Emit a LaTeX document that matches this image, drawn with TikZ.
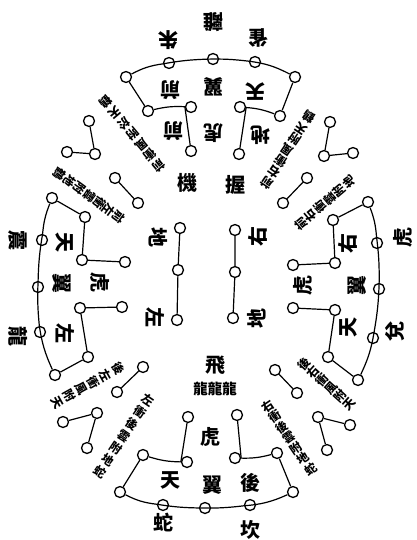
\documentclass[tikz,border=0pt]{standalone}
\usepackage{fontspec}
\usetikzlibrary{calc}
\newfontfamily\cjk{Noto Sans CJK TC}
\begin{document}
\begin{tikzpicture}[x=1pt,y=-1pt,
  ring/.style={circle,draw,line width=1.3pt,minimum size=11pt,inner sep=0pt,fill=white},
  lnk/.style={line width=1.2pt},
  big/.style={font=\cjk\bfseries\fontsize{20}{20}\selectfont,inner sep=0pt},
  mid/.style={font=\cjk\bfseries\fontsize{14.5}{15}\selectfont,inner sep=0pt},
  sm/.style={font=\cjk\bfseries\fontsize{12}{12}\selectfont,inner sep=0pt}]
\useasboundingbox (0,0) rectangle (417,540);
% ---------- top formation
\node[ring] (T1) at (126,77) {};
\node[ring] (T2) at (169,63) {};
\node[ring] (T3) at (213,59) {};
\node[ring] (T4) at (255,62) {};
\node[ring] (T5) at (295,77) {};
\node[ring] (Ta) at (148,111) {};
\node[ring] (Tb) at (191,107) {};
\node[ring] (Tc) at (191,151) {};
\node[ring] (Td) at (240,107) {};
\node[ring] (Te) at (280,116) {};
\node[ring] (Tf) at (239,154) {};
\draw[lnk] (T1) to[bend left=10] (T2) to[bend left=4] (T3) to[bend left=4] (T4) to[bend left=10] (T5);
\draw[lnk] (T1) -- (Ta) to[bend left=8] (Tb) -- (Tc);
\draw[lnk] (T5) -- (Te) to[bend right=8] (Td) -- (Tf);
% ---------- left formation
\node[ring] (L1) at (52,198) {};
\node[ring] (L2) at (42,240) {};
\node[ring] (L3) at (38,287) {};
\node[ring] (L4) at (40,332) {};
\node[ring] (L5) at (55,375) {};
\node[ring] (La) at (85,217) {};
\node[ring] (Lb) at (82,260) {};
\node[ring] (Lc) at (125,262) {};
\node[ring] (Ld) at (88,357) {};
\node[ring] (Le) at (80,308) {};
\node[ring] (Lf) at (122,307) {};
\draw[lnk] (L1) to[bend right=8] (L2) to[bend right=4] (L3) to[bend right=4] (L4) to[bend right=8] (L5);
\draw[lnk] (L1) -- (La) -- (Lb) -- (Lc);
\draw[lnk] (L5) -- (Ld) -- (Le) -- (Lf);
% ---------- right formation
\node[ring] (R1) at (368,202) {};
\node[ring] (R2) at (377,243) {};
\node[ring] (R3) at (379,289) {};
\node[ring] (R4) at (373,338) {};
\node[ring] (R5) at (358,380) {};
\node[ring] (Ra) at (333,220) {};
\node[ring] (Rb) at (335,263) {};
\node[ring] (Rc) at (293,265) {};
\node[ring] (Rd) at (328,357) {};
\node[ring] (Re) at (335,310) {};
\node[ring] (Rf) at (293,308) {};
\draw[lnk] (R1) to[bend left=8] (R2) to[bend left=4] (R3) to[bend left=4] (R4) to[bend left=8] (R5);
\draw[lnk] (R1) -- (Ra) -- (Rb) -- (Rc);
\draw[lnk] (R5) -- (Rd) -- (Re) -- (Rf);
% ---------- bottom formation
\node[ring] (B1) at (120,492) {};
\node[ring] (B2) at (163,505) {};
\node[ring] (B3) at (205,508) {};
\node[ring] (B4) at (250,505) {};
\node[ring] (B5) at (293,492) {};
\node[ring] (Ba) at (143,455) {};
\node[ring] (Bb) at (187,462) {};
\node[ring] (Bc) at (188,417) {};
\node[ring] (Bd) at (277,453) {};
\node[ring] (Be) at (235,458) {};
\node[ring] (Bf) at (237,415) {};
\draw[lnk] (B1) to[bend right=10] (B2) to[bend right=4] (B3) to[bend right=4] (B4) to[bend right=10] (B5);
\draw[lnk] (B1) -- (Ba) to[bend right=8] (Bb) -- (Bc);
\draw[lnk] (B5) -- (Bd) to[bend left=8] (Be) -- (Bf);
% ---------- centre columns
\node[ring] (C1) at (180,228) {};
\node[ring] (C2) at (178,270) {};
\node[ring] (C3) at (177,320) {};
\node[ring] (C4) at (235,230) {};
\node[ring] (C5) at (235,272) {};
\node[ring] (C6) at (233,318) {};
\draw[lnk] (C1) -- (C2) -- (C3);
\draw[lnk] (C4) -- (C5) -- (C6);
% ---------- corner groups
\node[ring] (P1) at (89,121) {};
\node[ring] (P2) at (95,154) {};
\node[ring] (P3) at (67,152) {};
\draw[lnk] (P1) -- (P2) -- (P3);
\node[ring] (Q1) at (115,178) {};
\node[ring] (Q2) at (138,203) {};
\draw[lnk] (Q1) -- (Q2);
\node[ring] (P4) at (330,122) {};
\node[ring] (P5) at (324,156) {};
\node[ring] (P6) at (353,153) {};
\draw[lnk] (P4) -- (P5) -- (P6);
\node[ring] (Q3) at (307,178) {};
\node[ring] (Q4) at (283,203) {};
\draw[lnk] (Q3) -- (Q4);
\node[ring] (P7) at (97,413) {};
\node[ring] (P8) at (63,422) {};
\node[ring] (P9) at (87,448) {};
\draw[lnk] (P8) -- (P7) -- (P9);
\node[ring] (Q5) at (143,367) {};
\node[ring] (Q6) at (117,392) {};
\draw[lnk] (Q5) -- (Q6);
\node[ring] (P10) at (318,417) {};
\node[ring] (P11) at (350,425) {};
\node[ring] (P12) at (327,450) {};
\draw[lnk] (P11) -- (P10) -- (P12);
\node[ring] (Q7) at (275,370) {};
\node[ring] (Q8) at (297,393) {};
\draw[lnk] (Q7) -- (Q8);
% ---------- large characters
% top (upside down)
\node[big,rotate=180] (x1) at (168,40) {朱};
\node[big,rotate=180] (x2) at (213,22) {離};
\node[big,rotate=180] (x3) at (258,38) {雀};
\node[big,rotate=180] (x4) at (170,90) {前};
\node[big,rotate=180] (x5) at (173,131) {前};
\node[big,rotate=180] (x6) at (213,87) {翼};
\node[big,rotate=180] (x7) at (213,133) {虎};
\node[big,rotate=180] (x8) at (255,92) {天};
\node[big,rotate=180] (x9) at (260,135) {地};
% centre
\node[big] (x10) at (187,183) {機};
\node[big] (x11) at (235,185) {握};
\node[big,rotate=-90] (x12) at (158,237) {地};
\node[big,rotate=-90] (x13) at (155,317) {左};
\node[big,rotate=90] (x14) at (258,236) {右};
\node[big,rotate=90] (x15) at (257,318) {地};
\node[big] (x16) at (215,365) {飛};
\node[mid] (x17) at (215,389) {龍龍龍};
% left
\node[big,rotate=-90] (x18) at (18,240) {震};
\node[big,rotate=-90] (x19) at (18,336) {龍};
\node[big,rotate=-90] (x20) at (65,242) {天};
\node[big,rotate=-90] (x21) at (62,283) {翼};
\node[big,rotate=-90] (x22) at (100,282) {虎};
\node[big,rotate=-90] (x23) at (65,333) {左};
% right
\node[big,rotate=90] (x24) at (403,237) {虎};
\node[big,rotate=90] (x25) at (395,331) {兌};
\node[big,rotate=90] (x26) at (348,243) {右};
\node[big,rotate=90] (x27) at (357,285) {翼};
\node[big,rotate=90] (x28) at (303,285) {虎};
\node[big,rotate=90] (x29) at (348,327) {天};
% bottom
\node[big] (x30) at (210,437) {虎};
\node[big] (x31) at (212,485) {翼};
\node[big] (x32) at (170,480) {天};
\node[big] (x33) at (250,483) {後};
\node[big] (x34) at (163,523) {蛇};
\node[big] (x35) at (250,530) {坎};
% ---------- diagonal columns (one node per character, inner end first)
\foreach \nm/\sx/\sy/\ex/\ey/\rot/\n/\txt in {
  d1/163/171/102/97/220/7/{前,衝,風,附,於,天,鶴},
  d2/124/221/55/170/234/7/{前,左,衝,雲,附,地,鶴},
  d3/263/188/312/112/146/7/{前,右,衝,風,附,天,鶴},
  d4/296/228/354/178/130/6/{前,右,衝,雲,附,地},
  d5/124/365/51/406/299/6/{後,左,衝,風,附,天},
  d6/152/394/96/478/326/7/{左,衝,後,雲,附,地,蛇},
  d7/300/360/354/408/48/6/{後,右,衝,風,附,天},
  d8/264/401/314/474/34/7/{右,衝,後,雲,附,地,蛇}} {
  \foreach \c [count=\i] in \txt {
    \node[sm,rotate=\rot] (\nm-\i) at ($(\sx,\sy)!{(\i-0.5)/\n}!(\ex,\ey)$) {\c};
  }
}
\end{tikzpicture}
\end{document}
